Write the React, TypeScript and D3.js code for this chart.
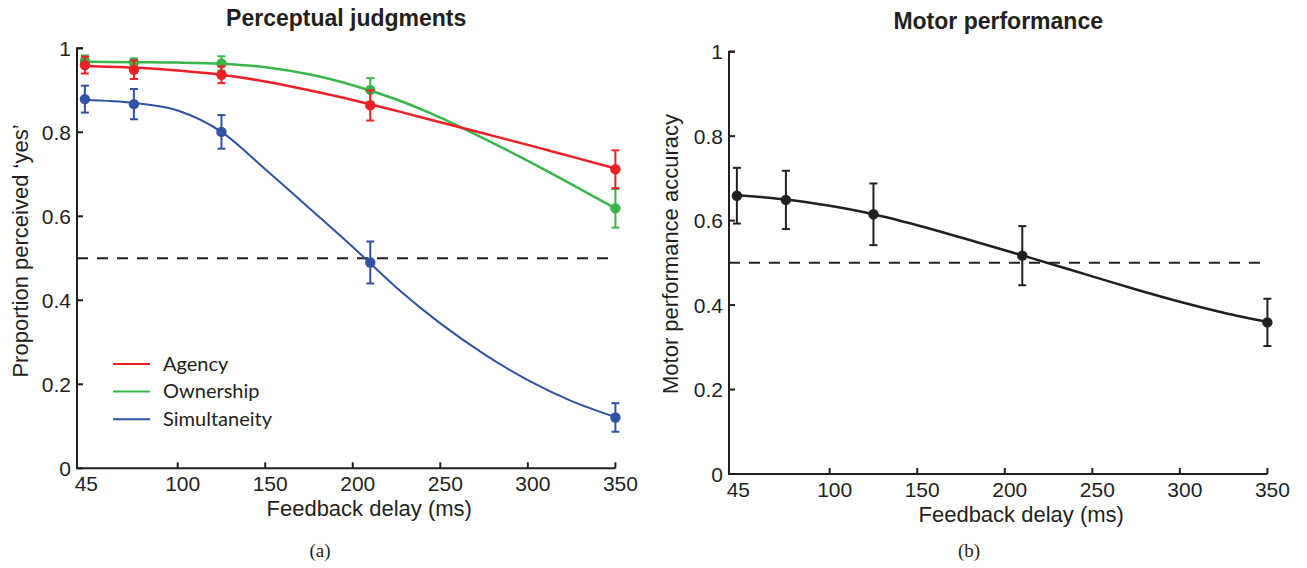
// @ts-nocheck
import React, { useEffect, useRef } from 'react';
import * as d3 from 'd3';

// measured delays (ms)
const delays = [47, 75, 125, 210, 350];

// perceptual judgments
const agency = [0.96, 0.949, 0.937, 0.864, 0.712];
const agencyErr = [0.02, 0.022, 0.02, 0.036, 0.045];
const ownership = [0.97, 0.966, 0.964, 0.901, 0.619];
const ownershipErr = [0.013, 0.01, 0.017, 0.028, 0.046];
const simultaneity = [0.879, 0.867, 0.801, 0.49, 0.121];
const simultaneityErr = [0.032, 0.036, 0.04, 0.05, 0.034];

// motor performance
const motor = [0.659, 0.649, 0.615, 0.517, 0.359];
const motorErr = [0.066, 0.069, 0.073, 0.07, 0.056];

// fitted curves
const fitDelays = [47, 75, 100, 125, 150, 175, 200, 225, 250, 275, 300, 325, 350];
const agencyFit = [0.958, 0.954, 0.947, 0.937, 0.921, 0.9, 0.877, 0.851, 0.824, 0.797, 0.77, 0.742, 0.714];
const ownershipFit = [0.968, 0.967, 0.966, 0.963, 0.955, 0.938, 0.912, 0.878, 0.835, 0.785, 0.732, 0.676, 0.619];
const simultaneityFit = [0.877, 0.87, 0.852, 0.801, 0.712, 0.62, 0.527, 0.43, 0.345, 0.272, 0.21, 0.16, 0.122];
const motorFit = [0.66, 0.65, 0.635, 0.615, 0.589, 0.56, 0.53, 0.499, 0.468, 0.437, 0.408, 0.382, 0.36];

const xTicks = [45, 100, 150, 200, 250, 300, 350];
const yTicks = [0, 0.2, 0.4, 0.6, 0.8, 1];

const legendNames = ['Agency', 'Ownership', 'Simultaneity'];

const RED = '#ec2027';
const GREEN = '#3ab54a';
const BLUE = '#3152a3';
const INK = '#231f20';
const SANS = '"Liberation Sans", Arial, Helvetica, sans-serif';

function drawPanel(svg, opt) {
    const x = d3.scaleLinear().domain([42.5, 350]).range([opt.left, opt.right]);
    const y = d3.scaleLinear().domain([0, 1]).range([opt.bottom, opt.top]);
    const g = svg.append('g');

    // dashed chance line
    g.append('line')
        .attr('x1', x(42.5)).attr('x2', x(350))
        .attr('y1', y(0.5)).attr('y2', y(0.5))
        .attr('stroke', INK).attr('stroke-width', 2)
        .attr('stroke-dasharray', '11,9');

    const line = d3.line()
        .curve(d3.curveMonotoneX)
        .x((d) => x(d[0]))
        .y((d) => y(d[1]));

    opt.series.forEach((s) => {
        g.append('path')
            .datum(fitDelays.map((t, i) => [t, s.fit[i]]))
            .attr('fill', 'none')
            .attr('stroke', s.color)
            .attr('stroke-width', s.width)
            .attr('d', line);
    });

    opt.series.forEach((s) => {
        const pts = delays.map((t, i) => ({ t, v: s.values[i], e: s.err[i] }));
        const eb = g.append('g').attr('stroke', s.color).attr('stroke-width', 2);
        pts.forEach((p) => {
            eb.append('line').attr('x1', x(p.t)).attr('x2', x(p.t))
                .attr('y1', y(p.v - p.e)).attr('y2', y(p.v + p.e));
            [p.v - p.e, p.v + p.e].forEach((v) => {
                eb.append('line').attr('x1', x(p.t) - 4).attr('x2', x(p.t) + 4)
                    .attr('y1', y(v)).attr('y2', y(v));
            });
        });
        g.append('g').selectAll('circle').data(pts).join('circle')
            .attr('cx', (d) => x(d.t))
            .attr('cy', (d) => y(d.v))
            .attr('r', 5.2)
            .attr('fill', s.color);
    });

    // axes
    const ax = g.append('g').attr('stroke', INK).attr('stroke-width', 2);
    ax.append('path')
        .attr('fill', 'none')
        .attr('d', `M${x(42.5) + 6},${y(1)}H${x(42.5)}V${y(0)}H${x(350)}`);
    yTicks.forEach((t) => {
        ax.append('line').attr('x1', x(42.5)).attr('x2', x(42.5) + 6)
            .attr('y1', y(t)).attr('y2', y(t));
    });
    xTicks.slice(1).forEach((t) => {
        ax.append('line').attr('x1', x(t)).attr('x2', x(t))
            .attr('y1', y(0)).attr('y2', y(0) - 6);
    });

    const lab = g.append('g').attr('fill', INK).style('font-family', SANS);
    lab.selectAll('text.yt').data(yTicks).join('text')
        .attr('class', 'yt')
        .attr('x', x(42.5) - 6)
        .attr('y', (d) => y(d))
        .attr('dy', '0.36em')
        .attr('text-anchor', 'end')
        .style('font-size', '21px')
        .text((d) => (d === 0 || d === 1 ? String(d) : d.toFixed(1)));
    lab.selectAll('text.xt').data(xTicks).join('text')
        .attr('class', 'xt')
        .attr('x', (d) => x(d) + 5)
        .attr('y', y(0) + 23)
        .attr('text-anchor', 'middle')
        .style('font-size', '21px')
        .text((d) => d);

    lab.append('text')
        .attr('x', (opt.left + opt.right) / 2 + 23)
        .attr('y', y(0) + 48)
        .attr('text-anchor', 'middle')
        .style('font-size', '22px')
        .text('Feedback delay (ms)');

    lab.append('text')
        .attr('transform', `translate(${opt.ylabX}, ${opt.ylabY}) rotate(-90)`)
        .attr('text-anchor', 'middle')
        .style('font-size', '22px')
        .text(opt.ylabel);

    lab.append('text')
        .attr('x', (opt.left + opt.right) / 2)
        .attr('y', opt.titleY)
        .attr('text-anchor', 'middle')
        .style('font-size', '23px')
        .style('font-weight', 'bold')
        .text(opt.title);

    svg.append('text')
        .attr('x', opt.captionX)
        .attr('y', 557)
        .attr('text-anchor', 'middle')
        .attr('fill', INK)
        .style('font-family', '"Liberation Serif", "Times New Roman", serif')
        .style('font-size', '19px')
        .text(opt.caption);

    return { x, y, g };
}

export default function App() {
    const ref = useRef(null);

    useEffect(() => {
        const svg = d3.select(ref.current);
        svg.selectAll('*').remove();

        const colors = [RED, GREEN, BLUE];
        drawPanel(svg, {
            left: 77, right: 615.4, top: 48.3, bottom: 468.3,
            title: 'Perceptual judgments', titleY: 26,
            ylabel: 'Proportion perceived \u2018yes\u2019', ylabX: 28, ylabY: 251,
            caption: '(a)', captionX: 320,
            series: [
                { values: ownership, err: ownershipErr, fit: ownershipFit, color: GREEN, width: 2.5 },
                { values: agency, err: agencyErr, fit: agencyFit, color: RED, width: 2.5 },
                { values: simultaneity, err: simultaneityErr, fit: simultaneityFit, color: BLUE, width: 2 }
            ]
        });

        // legend
        const leg = svg.append('g');
        legendNames.forEach((name, i) => {
            const ly = 364 + i * 27.6;
            leg.append('line')
                .attr('x1', 113).attr('x2', 150)
                .attr('y1', ly).attr('y2', ly)
                .attr('stroke', colors[i]).attr('stroke-width', 2);
            leg.append('text')
                .attr('x', 163).attr('y', ly)
                .attr('dy', '0.34em')
                .attr('fill', INK)
                .style('font-family', 'Lato, "Open Sans", sans-serif')
                .style('font-size', '20px')
                .text(name);
        });

        drawPanel(svg, {
            left: 729, right: 1267.4, top: 51.7, bottom: 474,
            title: 'Motor performance', titleY: 29,
            ylabel: 'Motor performance accuracy', ylabX: 678, ylabY: 254,
            caption: '(b)', captionX: 969,
            series: [
                { values: motor, err: motorErr, fit: motorFit, color: INK, width: 2.5 }
            ]
        });
    }, []);

    return (
        <div style={{ position: 'absolute', left: 0, top: 0 }}>
            <svg ref={ref} width={1307} height={568} style={{ display: 'block', background: '#fff' }} />
        </div>
    );
}
